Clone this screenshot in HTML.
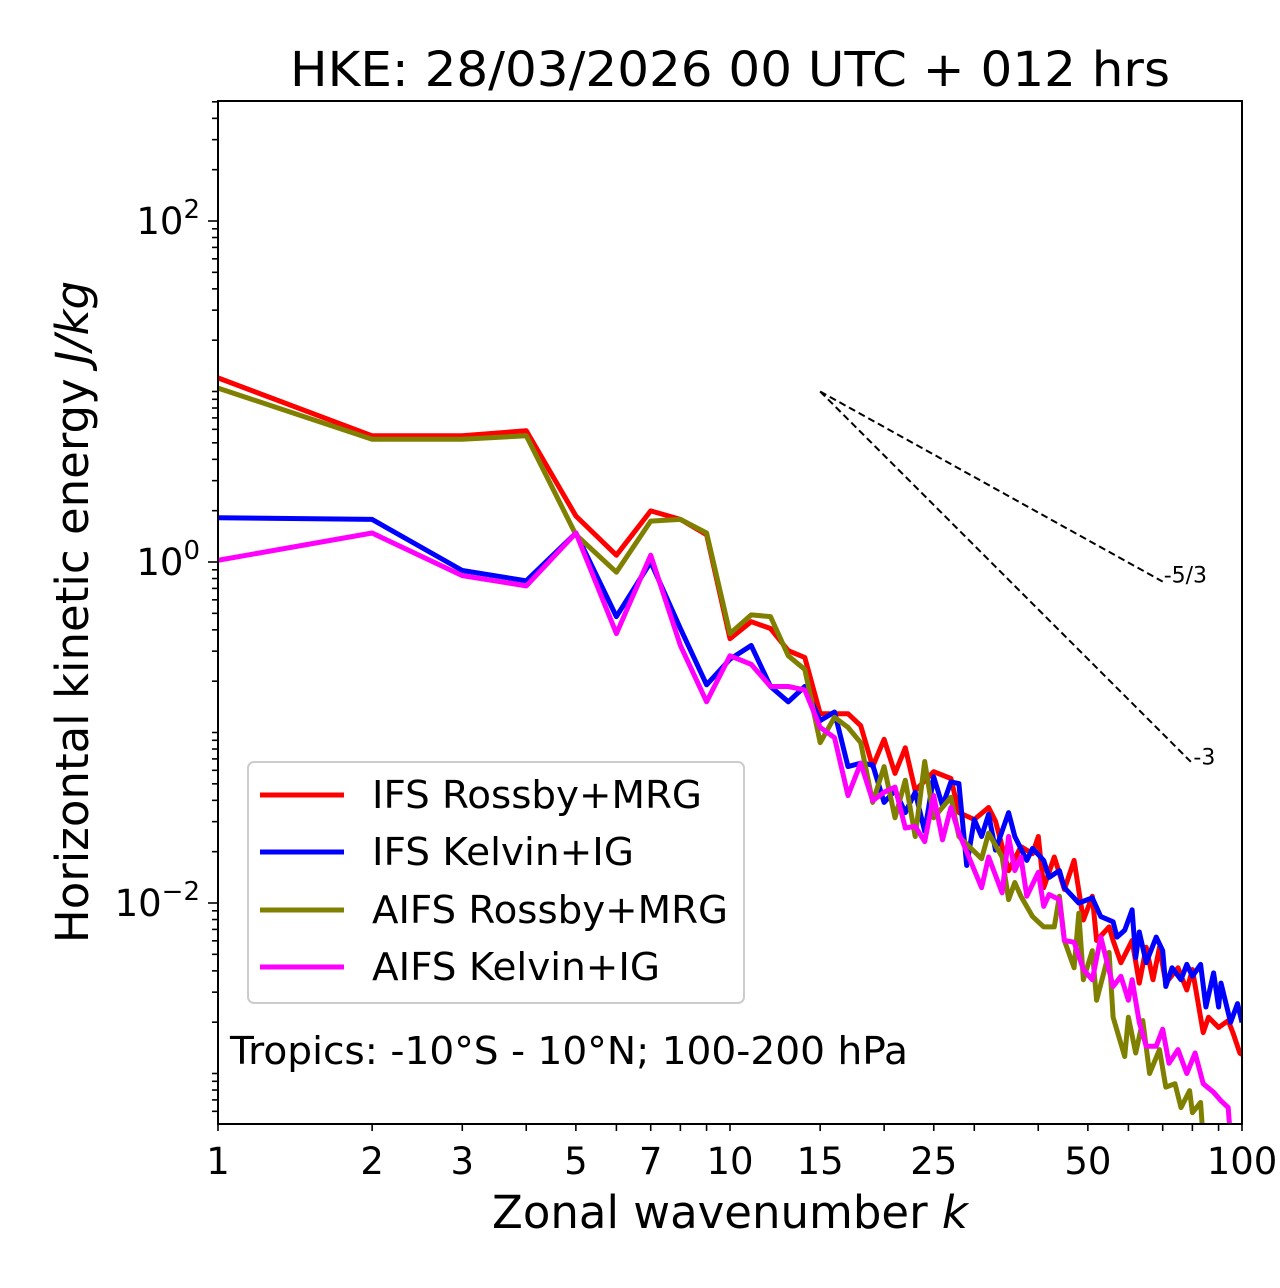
<!DOCTYPE html>
<html><head><meta charset="utf-8"><style>
body{margin:0;background:#fff}
svg{display:block;font-family:"DejaVu Sans","Liberation Sans",sans-serif}
</style></head><body>
<svg id="chart" width="1280" height="1288" viewBox="0 0 1280 1288" xmlns="http://www.w3.org/2000/svg">
<defs><clipPath id="pc"><rect x="218" y="101" width="1024" height="1023"/></clipPath></defs>
<rect width="1280" height="1288" fill="#fff"/>
<text x="730" y="86" font-size="48" text-anchor="middle" textLength="880" lengthAdjust="spacingAndGlyphs">HKE: 28/03/2026 00 UTC + 012 hrs</text>
<g id="ticks"></g>
<g id="series" clip-path="url(#pc)"></g>
<rect x="218" y="101" width="1024" height="1023" fill="none" stroke="#000" stroke-width="2"/>
<text x="730" y="1228" font-size="45" text-anchor="middle">Zonal wavenumber <tspan font-style="italic">k</tspan></text>
<text transform="translate(88,612) rotate(-90)" font-size="45" text-anchor="middle">Horizontal kinetic energy <tspan font-style="italic">J/kg</tspan></text>
<g>
<rect x="248" y="762" width="496" height="241" rx="6" fill="#fff" fill-opacity="0.8" stroke="#ccc" stroke-width="2"/>
<line x1="260" y1="795" x2="344" y2="795" stroke="#ff0000" stroke-width="5"/>
<text x="372" y="808" font-size="38" textLength="330" lengthAdjust="spacingAndGlyphs">IFS Rossby+MRG</text>
<line x1="260" y1="852" x2="344" y2="852" stroke="#0000ff" stroke-width="5"/>
<text x="372" y="865" font-size="38" textLength="262" lengthAdjust="spacingAndGlyphs">IFS Kelvin+IG</text>
<line x1="260" y1="910" x2="344" y2="910" stroke="#808000" stroke-width="5"/>
<text x="372" y="923" font-size="38" textLength="356" lengthAdjust="spacingAndGlyphs">AIFS Rossby+MRG</text>
<line x1="260" y1="967" x2="344" y2="967" stroke="#ff00ff" stroke-width="5"/>
<text x="372" y="980" font-size="38" textLength="288" lengthAdjust="spacingAndGlyphs">AIFS Kelvin+IG</text>
</g>
<text x="230" y="1064" font-size="38" textLength="678" lengthAdjust="spacingAndGlyphs">Tropics: -10°S - 10°N; 100-200 hPa</text>
</svg>
<script>
// log10 energy values (J/kg)
const redK=[1,2,3,4,5,6,7,8,9,10,11,12,13,14,15,17,18,19,20,21,22,23,25,27,28,30,32,33,35,37,39,40,41,43,45,47,49,51,52,55,56,58,61,63,65,67,69,71,75,78,80,84,86,90,94,96,99,100];
const redL=[1.08,0.74,0.74,0.77,0.27,0.04,0.30,0.25,0.16,-0.45,-0.35,-0.39,-0.52,-0.56,-0.89,-0.89,-0.96,-1.20,-1.04,-1.24,-1.09,-1.34,-1.23,-1.27,-1.47,-1.51,-1.44,-1.52,-1.81,-1.67,-1.71,-1.61,-1.91,-1.73,-1.92,-1.75,-2.10,-1.96,-2.22,-2.14,-2.22,-2.35,-2.22,-2.47,-2.26,-2.45,-2.26,-2.47,-2.38,-2.51,-2.39,-2.76,-2.67,-2.73,-2.69,-2.76,-2.88,-2.89];
const blueK=[1,2,3,4,5,6,7,8,9,10,11,12,13,14,15,16,17,18,19,20,21,22,23,24,25,26,27,28,29,30,31,32,33,35,36,38,39,41,42,44,45,48,51,53,56,57,59,61,62,63,65,68,70,71,73,76,78,80,83,85,88,90,91,95,98,100];
const blueL=[0.26,0.25,-0.05,-0.11,0.17,-0.32,0.00,-0.39,-0.72,-0.57,-0.49,-0.73,-0.82,-0.73,-0.93,-0.88,-1.20,-1.18,-1.19,-1.41,-1.34,-1.47,-1.35,-1.58,-1.26,-1.43,-1.29,-1.30,-1.78,-1.51,-1.61,-1.48,-1.69,-1.47,-1.61,-1.75,-1.68,-1.75,-1.85,-1.81,-1.91,-2.00,-1.97,-2.08,-2.11,-2.20,-2.16,-2.04,-2.32,-2.17,-2.35,-2.20,-2.28,-2.49,-2.38,-2.45,-2.36,-2.43,-2.36,-2.61,-2.41,-2.61,-2.47,-2.70,-2.59,-2.70];
const oliveK=[1,2,3,4,5,6,7,8,9,10,11,12,13,14,15,16,17,18,19,20,21,22,23,24,25,27,28,31,32,34,35,36,37,39,41,43,44,45,47,48,49,51,52,55,56,59,60,62,64,66,69,71,74,76,79,80,83,84];
const oliveL=[1.02,0.72,0.72,0.74,0.16,-0.06,0.24,0.25,0.17,-0.42,-0.31,-0.32,-0.55,-0.63,-1.06,-0.91,-0.97,-1.06,-1.41,-1.20,-1.50,-1.28,-1.61,-1.17,-1.50,-1.38,-1.61,-1.74,-1.59,-1.73,-1.98,-1.88,-1.96,-2.08,-2.14,-2.14,-1.96,-2.22,-2.38,-2.06,-2.45,-2.28,-2.57,-2.29,-2.67,-2.90,-2.67,-2.88,-2.69,-3.00,-2.86,-3.08,-3.06,-3.20,-3.10,-3.23,-3.17,-3.39];
const magK=[1,2,3,4,5,6,7,8,9,10,11,12,13,14,15,16,17,18,19,20,21,22,23,24,25,26,27,28,31,32,34,35,36,37,38,40,41,42,44,45,47,49,51,53,56,58,60,61,63,65,68,70,72,75,78,81,84,88,91,94,95];
const magL=[0.01,0.17,-0.08,-0.14,0.17,-0.42,0.04,-0.49,-0.82,-0.55,-0.60,-0.73,-0.73,-0.75,-0.97,-1.03,-1.37,-1.18,-1.40,-1.35,-1.32,-1.56,-1.55,-1.64,-1.37,-1.63,-1.44,-1.59,-1.91,-1.73,-1.94,-1.61,-1.81,-1.73,-1.96,-1.82,-2.02,-1.95,-1.98,-2.22,-2.23,-2.39,-2.45,-2.20,-2.49,-2.43,-2.57,-2.45,-2.70,-2.84,-2.84,-2.74,-2.94,-2.86,-3.00,-2.88,-3.06,-3.11,-3.16,-3.20,-3.39];
const xTickLabels=[1,2,3,5,7,10,15,25,50,100];
const yTickExps=[-2,0,2];
const slopeStart=[15,1.0];
const slopes=[[-5/3,70,"-5/3"],[-3,80,"-3"]];

const X0=218,XPD=512,Y0=562,YPD=170.5;
function xs(k){return X0+XPD*Math.log10(k);}
function ys(l){return Y0-YPD*l;}
const NS="http://www.w3.org/2000/svg";
function mk(t,a,p){const e=document.createElementNS(NS,t);for(const k in a)e.setAttribute(k,a[k]);p.appendChild(e);return e;}
const tg=document.getElementById('ticks'), sg=document.getElementById('series');
const xt=[];for(let d=1;d<=10;d+=1)xt.push(d);for(let d=20;d<=100;d+=10)xt.push(d);xt.push(15,25);
xt.forEach(k=>{const t=mk('line',{x1:xs(k),x2:xs(k),y1:1124,y2:1131,stroke:'#000','stroke-width':1.6},tg);

});
xTickLabels.forEach(k=>{const t=mk('text',{x:xs(k),y:1174,'font-size':37,'text-anchor':'middle'},tg);t.textContent=String(k);

});
for(let e=-4;e<=3;e++){for(let m=1;m<=9;m++){const l=e+Math.log10(m);const y=ys(l);if(y<101||y>1124)continue;
const major=(m===1&&yTickExps.includes(e));
const t=mk('line',{x1:218,x2:major?208:212,y1:y,y2:y,stroke:'#000','stroke-width':1.6},tg);

}}
yTickExps.forEach(e=>{const t=mk('text',{x:200,y:ys(e)+13,'font-size':37,'text-anchor':'end'},tg);
t.innerHTML='10<tspan dy="-16" font-size="26">'+(e<0?'\u2212'+(-e):e)+'</tspan>';

});
function line(K,L,col,name){const d=K.map((k,i)=>(i?'L':'M')+xs(k).toFixed(1)+' '+ys(L[i]).toFixed(1)).join(' ');
const p=mk('path',{d:d,fill:'none',stroke:col,'stroke-width':5,'stroke-linejoin':'round'},sg);

}
line(redK,redL,'#ff0000','ifs-rossby-mrg-line');
line(blueK,blueL,'#0000ff','ifs-kelvin-ig-line');
line(oliveK,oliveL,'#808000','aifs-rossby-mrg-line');
line(magK,magL,'#ff00ff','aifs-kelvin-ig-line');
slopes.forEach(s=>{const k0=slopeStart[0],l0=slopeStart[1];const l1=l0+s[0]*Math.log10(s[1]/k0);
const p=mk('line',{x1:xs(k0),y1:ys(l0),x2:xs(s[1]),y2:ys(l1),stroke:'#000','stroke-width':2,'stroke-dasharray':'7,4'},sg);


const t=mk('text',{x:xs(s[1])+1,y:ys(l1)+1,'font-size':22},document.getElementById('chart'));t.textContent=s[2];

});
</script>
</body></html>
